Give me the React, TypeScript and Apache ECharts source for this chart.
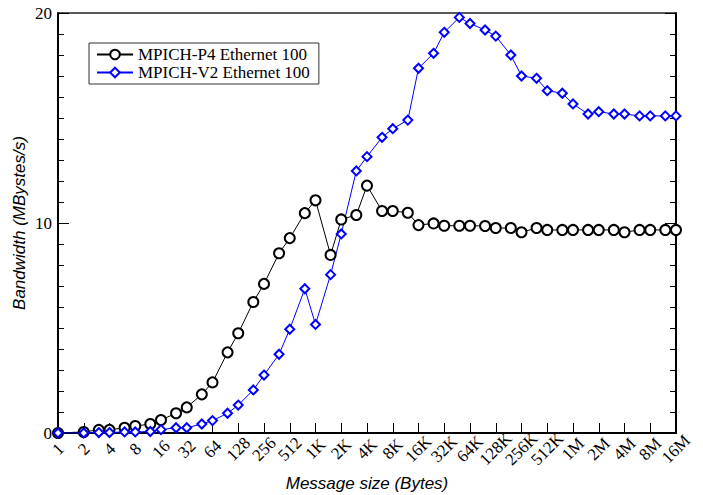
import React, { useEffect, useRef } from "react";
import * as echarts from "echarts";

const messageSizes = [
  1, 2, 3, 4, 6, 8, 12, 16, 24, 32, 48, 64, 96, 128, 192, 256, 384, 512, 768, 1024,
  1536, 2048, 3072, 4096, 6144, 8192, 12288, 16384, 24576, 32768, 49152, 65536,
  98304, 131072, 196608, 262144, 393216, 524288, 786432, 1048576, 1572864, 2097152,
  3145728, 4194304, 6291456, 8388608, 12582912, 16777216,
];

const p4Bandwidth = [
  0, 0.05, 0.15, 0.15, 0.25, 0.33, 0.43, 0.62, 0.94, 1.22, 1.84, 2.41, 3.84, 4.75,
  6.24, 7.1, 8.56, 9.28, 10.47, 11.08, 8.48, 10.17, 10.38, 11.78, 10.57, 10.57,
  10.49, 9.9, 9.98, 9.87, 9.87, 9.87, 9.86, 9.76, 9.76, 9.56, 9.76, 9.67, 9.67,
  9.67, 9.67, 9.67, 9.67, 9.56, 9.67, 9.67, 9.67, 9.67,
];

const v2Bandwidth = [
  0, 0, 0.02, 0.02, 0.05, 0.05, 0.07, 0.16, 0.25, 0.25, 0.43, 0.59, 0.94, 1.33,
  2.05, 2.76, 3.75, 4.94, 6.87, 5.17, 7.54, 9.48, 12.48, 13.16, 14.08, 14.49, 14.9,
  17.37, 18.08, 19.08, 19.79, 19.5, 19.19, 18.9, 18.0, 17.0, 16.89, 16.3, 16.18,
  15.67, 15.19, 15.3, 15.19, 15.19, 15.1, 15.1, 15.1, 15.1,
];

const xTickLabels = [
  "1", "2", "4", "8", "16", "32", "64", "128", "256", "512", "1K", "2K", "4K", "8K",
  "16K", "32K", "64K", "128K", "256K", "512K", "1M", "2M", "4M", "8M", "16M",
];

const seriesNames = ["MPICH-P4 Ethernet 100", "MPICH-V2 Ethernet 100"];

const SERIF = "'Liberation Serif', 'DejaVu Serif', serif";
const SANS = "'Liberation Sans', Arial, sans-serif";

export default function App() {
  const ref = useRef<HTMLDivElement>(null);

  useEffect(() => {
    if (!ref.current) return;
    const chart = echarts.init(ref.current, null, { renderer: "svg" });

    const tickAxis = (position: string, interval: number, length: number, showLine: boolean) => ({
      type: "value",
      position,
      min: 0,
      max: 20,
      interval,
      splitLine: { show: false },
      axisLabel: { show: false },
      axisLine: { show: showLine, onZero: false, lineStyle: { color: "#000", width: 2 } },
      axisTick: { show: true, inside: true, length, lineStyle: { color: "#000", width: 1 } },
    });

    chart.setOption({
      animation: false,
      backgroundColor: "#fff",
      grid: {
        left: 58,
        right: 27,
        top: 13,
        bottom: 62,
        containLabel: false,
        outerBoundsMode: "none",
      },
      legend: {
        left: 89,
        top: 43,
        orient: "vertical",
        data: seriesNames,
        itemWidth: 36,
        itemHeight: 12,
        itemGap: 1,
        padding: [3, 9, 3, 7],
        borderColor: "#333",
        borderWidth: 1,
        textStyle: { fontFamily: SERIF, fontSize: 17, color: "#000" },
      },
      xAxis: [
        {
          type: "log",
          logBase: 2,
          min: 1,
          max: 16777216,
          interval: 1,
          position: "bottom",
          name: "Message size (Bytes)",
          nameLocation: "middle",
          nameGap: 42,
          nameMoveOverlap: false,
          nameTextStyle: {
            fontFamily: SANS,
            fontStyle: "italic",
            fontSize: 17,
            color: "#000",
            verticalAlign: "top",
          },
          axisLine: { show: true, onZero: false, lineStyle: { color: "#000", width: 2 } },
          axisTick: { show: true, inside: true, length: 10, lineStyle: { color: "#000", width: 1 } },
          minorTick: { show: false },
          splitLine: { show: false },
          axisLabel: {
            rotate: 45,
            margin: 16,
            align: "center",
            verticalAlign: "middle",
            fontFamily: SERIF,
            fontSize: 17,
            color: "#000",
            formatter: (v: number) => {
              const idx = Math.round(Math.log2(v));
              return xTickLabels[idx] ?? "";
            },
          },
        },
        {
          type: "value",
          position: "top",
          min: 0,
          max: 1,
          axisLine: { show: true, onZero: false, lineStyle: { color: "#222", width: 1.5 } },
          axisTick: { show: false },
          axisLabel: { show: false },
          splitLine: { show: false },
        },
      ],
      yAxis: [
        {
          type: "value",
          position: "left",
          min: 0,
          max: 20,
          interval: 10,
          name: "Bandwidth (MBystes/s)",
          nameLocation: "middle",
          nameGap: 30,
          nameMoveOverlap: false,
          nameTextStyle: { fontFamily: SANS, fontStyle: "italic", fontSize: 17, color: "#000" },
          splitLine: { show: false },
          axisLine: { show: true, onZero: false, lineStyle: { color: "#000", width: 2 } },
          axisTick: { show: true, inside: true, length: 11, lineStyle: { color: "#000", width: 1 } },
          axisLabel: { margin: 6, fontFamily: SERIF, fontSize: 17, color: "#000" },
        },
        tickAxis("left", 1, 6, false),
        tickAxis("right", 10, 11, true),
        tickAxis("right", 1, 6, false),
      ],
      series: [
        {
          name: seriesNames[0],
          type: "line",
          xAxisIndex: 0,
          yAxisIndex: 0,
          data: messageSizes.map((s, i) => [s, p4Bandwidth[i]]),
          symbol: "emptyCircle",
          symbolSize: 10,
          color: "#000",
          itemStyle: { color: "#000", borderWidth: 1 },
          lineStyle: { color: "#000", width: 1 },
        },
        {
          name: seriesNames[1],
          type: "line",
          xAxisIndex: 0,
          yAxisIndex: 0,
          data: messageSizes.map((s, i) => [s, v2Bandwidth[i]]),
          symbol: "emptyDiamond",
          symbolSize: 9,
          color: "#0000ff",
          itemStyle: { color: "#0000ff", borderWidth: 1 },
          lineStyle: { color: "#0000ff", width: 1 },
        },
      ],
    });

    return () => chart.dispose();
  }, []);

  return (
    <div
      ref={ref}
      style={{ position: "fixed", left: 0, top: 0, width: 703, height: 495 }}
    />
  );
}
